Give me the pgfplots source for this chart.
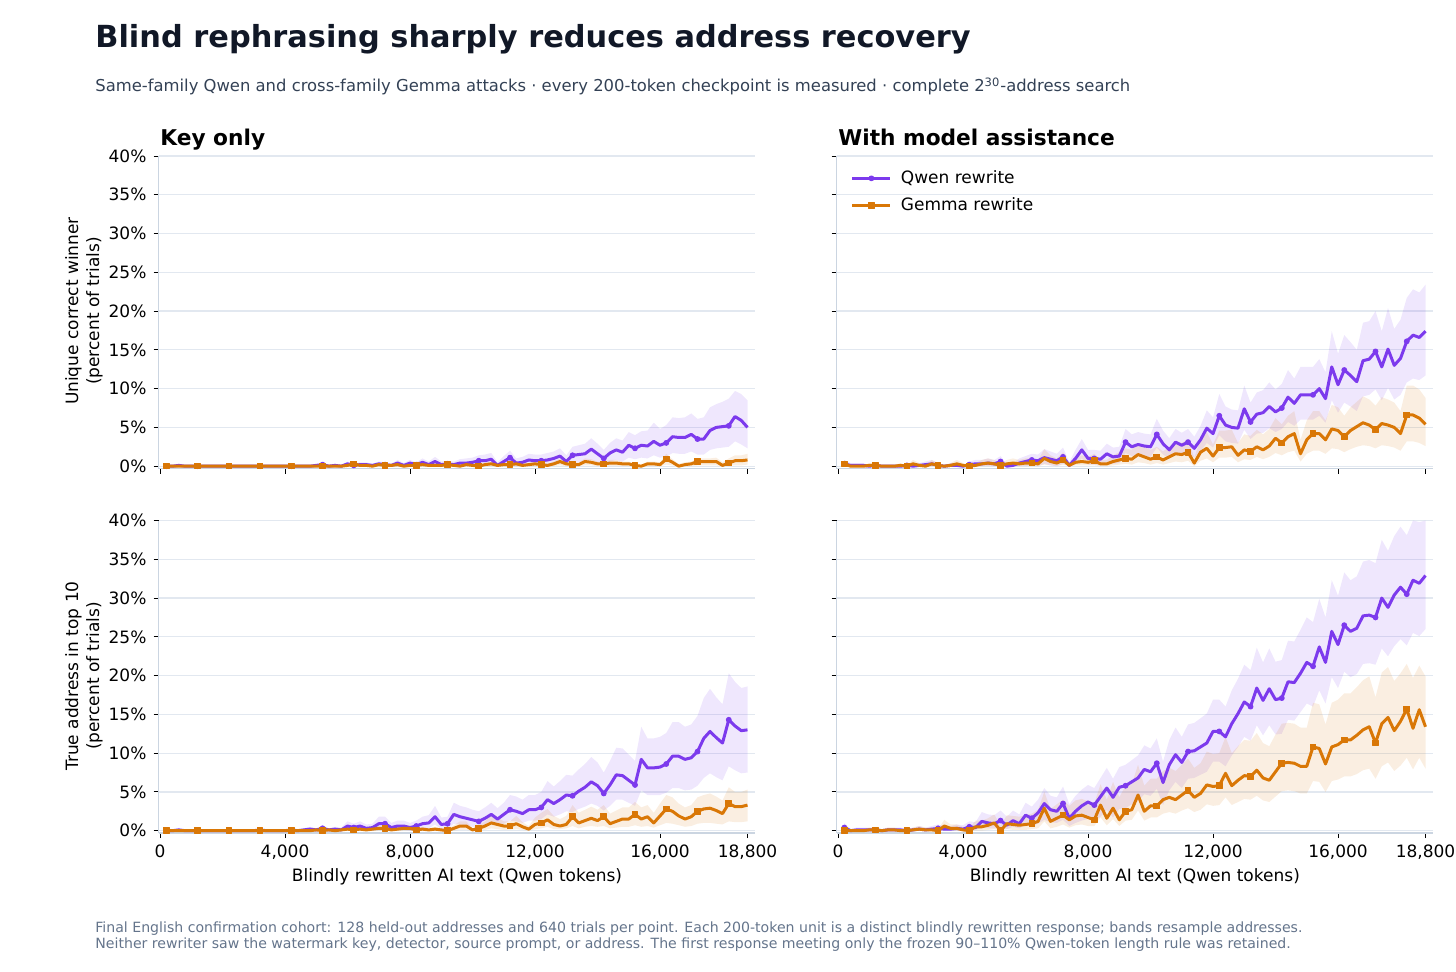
\documentclass[border=0pt]{standalone}
\usepackage{pgfplots}
\pgfplotsset{compat=1.18}
\usepackage{pgfplotstable}
\usepgfplotslibrary{fillbetween}
\usepackage{fontspec}
\setmainfont{DejaVu Sans}
\definecolor{qcol}{HTML}{7C3AED}
\definecolor{gcol}{HTML}{D97706}
\definecolor{gridc}{HTML}{E2E8F0}
\definecolor{spine}{HTML}{CBD5E1}
\definecolor{titlec}{HTML}{111827}
\definecolor{subc}{HTML}{334155}
\definecolor{footc}{HTML}{64748B}

\pgfplotstableread{
x q ql qh g gl gh
200 0.0 0.0 0.0 0.0 0.0 0.0
400 0.0 0.0 0.0 0.0 0.0 0.0
600 0.1 0.0 0.3 0.0 0.0 0.0
800 0.0 0.0 0.1 0.0 0.0 0.0
1000 0.0 0.0 0.0 0.0 0.0 0.0
1200 0.0 0.0 0.0 0.0 0.0 0.0
1400 0.0 0.0 0.0 0.0 0.0 0.0
1600 0.0 0.0 0.0 0.0 0.0 0.0
1800 0.0 0.0 0.0 0.0 0.0 0.0
2000 0.0 0.0 0.0 0.0 0.0 0.0
2200 0.0 0.0 0.0 0.0 0.0 0.0
2400 0.0 0.0 0.0 0.0 0.0 0.0
2600 0.0 0.0 0.0 0.0 0.0 0.0
2800 0.0 0.0 0.0 0.0 0.0 0.0
3000 0.0 0.0 0.0 0.0 0.0 0.0
3200 0.0 0.0 0.0 0.0 0.0 0.0
3400 0.0 0.0 0.0 0.0 0.0 0.0
3600 0.0 0.0 0.0 0.0 0.0 0.0
3800 0.0 0.0 0.0 0.0 0.0 0.0
4000 0.0 0.0 0.0 0.0 0.0 0.0
4200 0.0 0.0 0.0 0.0 0.0 0.0
4400 0.0 0.0 0.0 0.0 0.0 0.0
4600 0.0 0.0 0.0 0.0 0.0 0.0
4800 0.0 0.0 0.1 0.0 0.0 0.0
5000 0.1 0.0 0.3 0.0 0.0 0.0
5200 0.2 0.0 0.4 0.0 0.0 0.0
5400 0.0 0.0 0.2 0.0 0.0 0.0
5600 0.1 0.0 0.3 0.0 0.0 0.0
5800 0.0 0.0 0.2 0.0 0.0 0.1
6000 0.3 0.0 0.6 0.1 0.0 0.3
6200 0.1 0.0 0.3 0.3 0.0 0.6
6400 0.2 0.0 0.5 0.1 0.0 0.3
6600 0.2 0.0 0.5 0.1 0.0 0.3
6800 0.1 0.0 0.3 0.0 0.0 0.1
7000 0.3 0.0 0.6 0.2 0.0 0.4
7200 0.2 0.0 0.5 0.1 0.0 0.3
7400 0.1 0.0 0.3 0.1 0.0 0.3
7600 0.4 0.0 0.8 0.2 0.0 0.4
7800 0.1 0.0 0.4 0.0 0.0 0.1
8000 0.4 0.0 0.8 0.1 0.0 0.3
8200 0.2 0.0 0.5 0.1 0.0 0.3
8400 0.5 0.0 1.0 0.2 0.0 0.4
8600 0.2 0.0 0.6 0.1 0.0 0.3
8800 0.6 0.1 1.2 0.1 0.0 0.3
9000 0.2 0.0 0.6 0.1 0.0 0.3
9200 0.3 0.0 0.7 0.2 0.0 0.4
9400 0.2 0.0 0.6 0.1 0.0 0.3
9600 0.4 0.0 0.9 0.0 0.0 0.1
9800 0.4 0.0 1.0 0.2 0.0 0.4
10000 0.5 0.1 1.1 0.1 0.0 0.3
10200 0.7 0.1 1.4 0.0 0.0 0.1
10400 0.7 0.1 1.5 0.2 0.0 0.4
10600 0.9 0.2 1.7 0.3 0.0 0.6
10800 0.1 0.0 0.5 0.1 0.0 0.3
11000 0.6 0.1 1.3 0.2 0.0 0.4
11200 1.1 0.3 2.0 0.2 0.0 0.4
11400 0.4 0.0 1.0 0.3 0.0 0.6
11600 0.5 0.1 1.2 0.1 0.0 0.3
11800 0.8 0.2 1.6 0.2 0.0 0.4
12000 0.7 0.1 1.5 0.3 0.0 0.6
12200 0.7 0.1 1.5 0.2 0.0 0.4
12400 0.8 0.2 1.7 0.1 0.0 0.3
12600 1.0 0.2 1.9 0.3 0.0 0.6
12800 1.3 0.3 2.3 0.6 0.1 1.0
13000 0.6 0.1 1.4 0.3 0.0 0.6
13200 1.4 0.4 2.5 0.2 0.0 0.5
13400 1.5 0.5 2.7 0.2 0.0 0.5
13600 1.6 0.5 2.9 0.6 0.1 1.0
13800 2.2 0.8 3.6 0.5 0.1 0.9
14000 1.6 0.5 2.9 0.3 0.0 0.6
14200 1.0 0.2 2.1 0.3 0.0 0.6
14400 1.7 0.6 3.0 0.4 0.0 0.8
14600 2.1 0.8 3.6 0.4 0.0 0.8
14800 1.8 0.6 3.3 0.3 0.0 0.6
15000 2.7 1.1 4.4 0.3 0.0 0.6
15200 2.3 0.9 4.0 0.1 0.0 0.3
15400 2.7 1.1 4.5 0.0 0.0 0.2
15600 2.6 1.0 4.6 0.3 0.0 0.6
15800 3.2 1.4 5.6 0.3 0.0 0.6
16000 2.7 1.1 4.8 0.2 0.0 0.5
16200 3.0 1.2 5.3 0.9 0.2 1.6
16400 3.8 1.7 6.3 0.5 0.1 0.9
16600 3.7 1.6 6.2 0.0 0.0 0.3
16800 3.7 1.6 6.3 0.2 0.0 0.5
17000 4.1 1.9 6.8 0.3 0.0 0.6
17200 3.5 1.5 6.1 0.6 0.1 1.0
17400 3.5 1.5 6.3 0.6 0.1 1.0
17600 4.6 2.1 7.6 0.6 0.1 1.0
17800 5.0 2.3 8.0 0.6 0.1 1.1
18000 5.1 2.4 8.3 0.1 0.0 0.5
18200 5.2 2.5 8.7 0.4 0.1 1.0
18400 6.4 3.2 9.7 0.7 0.1 1.4
18600 5.9 2.8 9.3 0.7 0.1 1.4
18800 5.0 2.3 8.5 0.8 0.2 1.6
}\dataTL

\pgfplotstableread{
x q ql qh g gl gh
200 0.3 0.0 0.8 0.3 0.0 0.8
400 0.1 0.0 0.4 0.0 0.0 0.1
600 0.1 0.0 0.4 0.0 0.0 0.1
800 0.1 0.0 0.4 0.0 0.0 0.1
1000 0.0 0.0 0.1 0.1 0.0 0.4
1200 0.1 0.0 0.4 0.1 0.0 0.4
1400 0.0 0.0 0.1 0.0 0.0 0.1
1600 0.0 0.0 0.1 0.0 0.0 0.1
1800 0.0 0.0 0.1 0.0 0.0 0.1
2000 0.0 0.0 0.1 0.1 0.0 0.4
2200 0.1 0.0 0.4 0.0 0.0 0.1
2400 0.0 0.0 0.1 0.3 0.0 0.8
2600 0.1 0.0 0.4 0.1 0.0 0.4
2800 0.2 0.0 0.6 0.0 0.0 0.1
3000 0.3 0.0 0.8 0.3 0.0 0.8
3200 0.1 0.0 0.4 0.1 0.0 0.4
3400 0.0 0.0 0.1 0.0 0.0 0.1
3600 0.1 0.0 0.4 0.1 0.0 0.4
3800 0.1 0.0 0.4 0.3 0.0 0.8
4000 0.0 0.0 0.1 0.1 0.0 0.4
4200 0.2 0.0 0.6 0.0 0.0 0.1
4400 0.3 0.0 0.8 0.1 0.0 0.4
4600 0.3 0.0 0.8 0.3 0.0 0.8
4800 0.4 0.0 1.0 0.4 0.0 1.0
5000 0.3 0.0 0.8 0.3 0.0 0.8
5200 0.6 0.0 1.3 0.1 0.0 0.4
5400 0.0 0.0 0.2 0.3 0.0 0.8
5600 0.1 0.0 0.4 0.4 0.0 1.0
5800 0.4 0.0 1.0 0.3 0.0 0.8
6000 0.6 0.0 1.3 0.4 0.0 1.0
6200 0.8 0.1 1.6 0.4 0.0 1.0
6400 0.7 0.0 1.5 0.3 0.0 0.8
6600 1.1 0.3 2.2 1.0 0.2 2.2
6800 0.9 0.1 1.9 0.6 0.1 1.4
7000 0.7 0.0 1.6 0.4 0.0 1.0
7200 1.2 0.3 2.4 0.8 0.2 1.8
7400 0.1 0.0 0.5 0.1 0.0 0.4
7600 1.0 0.2 2.1 0.5 0.1 1.2
7800 2.1 1.0 3.5 0.6 0.1 1.4
8000 1.0 0.2 2.1 0.5 0.1 1.2
8200 1.0 0.2 2.1 0.7 0.1 1.6
8400 0.9 0.1 2.0 0.3 0.0 0.8
8600 1.6 0.6 2.9 0.3 0.0 0.8
8800 1.2 0.3 2.4 0.6 0.1 1.4
9000 1.3 0.4 2.5 0.8 0.2 1.8
9200 3.1 1.7 4.8 1.0 0.3 2.3
9400 2.5 1.3 4.1 0.9 0.2 2.1
9600 2.8 1.5 4.4 1.5 0.5 3.0
9800 2.6 1.3 4.2 1.2 0.4 2.5
10000 2.5 1.2 4.1 0.9 0.2 2.1
10200 4.1 2.4 6.1 1.2 0.4 2.5
10400 2.9 1.5 4.6 0.8 0.2 1.9
10600 2.1 1.0 3.6 1.2 0.4 2.5
10800 3.1 1.7 4.8 1.6 0.6 3.2
11000 2.7 1.4 4.3 1.5 0.5 3.0
11200 3.1 1.7 4.8 1.8 0.7 3.5
11400 2.3 1.1 3.8 0.4 0.0 1.1
11600 3.4 1.9 5.2 1.8 0.7 3.5
11800 4.9 3.0 7.2 2.3 1.0 4.4
12000 4.2 2.4 6.3 1.3 0.5 2.8
12200 6.5 4.0 9.3 2.4 1.1 4.6
12400 5.3 3.2 7.7 2.4 1.1 4.6
12600 5.0 3.0 7.3 2.5 1.2 4.7
12800 4.9 2.9 7.2 1.4 0.5 3.0
13000 7.4 4.7 10.4 2.1 0.9 4.1
13200 5.7 3.5 8.2 1.9 0.8 3.9
13400 6.7 4.2 9.5 2.5 1.2 4.7
13600 6.9 4.3 9.8 2.1 0.9 4.1
13800 7.7 4.9 10.8 2.6 1.2 4.8
14000 7.0 4.4 9.9 3.6 1.7 6.2
14200 7.5 4.8 10.6 3.0 1.4 5.4
14400 8.9 5.7 12.4 3.8 1.8 6.5
14600 8.1 5.2 11.3 4.2 2.0 7.1
14800 9.2 6.0 12.8 1.6 0.6 3.4
15000 9.2 6.0 12.8 3.4 1.6 5.9
15200 9.2 6.0 12.8 4.2 2.0 7.1
15400 10.0 6.5 13.8 4.2 2.0 7.1
15600 8.7 5.6 12.1 3.4 1.6 5.9
15800 12.8 8.5 17.4 4.8 2.3 7.9
16000 10.5 6.9 14.5 4.6 2.2 7.6
16200 12.4 8.2 16.9 3.8 1.8 6.5
16400 11.7 7.7 16.0 4.6 2.2 7.6
16600 10.9 7.1 15.0 5.1 2.5 8.3
16800 13.6 9.0 18.5 5.6 2.7 9.0
17000 13.8 9.2 18.7 5.3 2.6 8.6
17200 14.8 9.9 20.0 4.7 2.3 7.8
17400 12.8 8.5 17.4 5.5 2.7 8.9
17600 15.1 10.1 20.4 5.3 2.6 8.6
17800 13.0 8.6 17.7 5.0 2.4 8.2
18000 13.9 9.2 18.9 4.2 2.0 7.1
18200 16.1 10.8 21.7 6.6 3.2 10.4
18400 16.9 11.3 22.8 6.6 3.2 10.4
18600 16.6 11.1 22.4 6.2 3.0 9.9
18800 17.4 11.7 23.4 5.4 2.6 8.8
}\dataTR

\pgfplotstableread{
x q ql qh g gl gh
200 0.0 0.0 0.1 0.0 0.0 0.1
400 0.0 0.0 0.1 0.0 0.0 0.0
600 0.1 0.0 0.3 0.0 0.0 0.0
800 0.0 0.0 0.1 0.0 0.0 0.0
1000 0.0 0.0 0.0 0.0 0.0 0.0
1200 0.0 0.0 0.0 0.0 0.0 0.0
1400 0.0 0.0 0.0 0.0 0.0 0.0
1600 0.0 0.0 0.0 0.0 0.0 0.0
1800 0.0 0.0 0.0 0.0 0.0 0.0
2000 0.0 0.0 0.0 0.0 0.0 0.0
2200 0.0 0.0 0.0 0.0 0.0 0.0
2400 0.0 0.0 0.0 0.0 0.0 0.0
2600 0.0 0.0 0.0 0.0 0.0 0.0
2800 0.0 0.0 0.0 0.0 0.0 0.0
3000 0.0 0.0 0.1 0.0 0.0 0.0
3200 0.1 0.0 0.3 0.0 0.0 0.1
3400 0.0 0.0 0.1 0.0 0.0 0.0
3600 0.0 0.0 0.0 0.0 0.0 0.0
3800 0.0 0.0 0.0 0.0 0.0 0.0
4000 0.0 0.0 0.1 0.0 0.0 0.0
4200 0.1 0.0 0.3 0.0 0.0 0.0
4400 0.0 0.0 0.1 0.0 0.0 0.0
4600 0.1 0.0 0.3 0.0 0.0 0.1
4800 0.2 0.0 0.5 0.0 0.0 0.1
5000 0.1 0.0 0.3 0.1 0.0 0.3
5200 0.3 0.0 0.7 0.0 0.0 0.1
5400 0.1 0.0 0.3 0.1 0.0 0.3
5600 0.2 0.0 0.5 0.0 0.0 0.1
5800 0.1 0.0 0.4 0.1 0.0 0.3
6000 0.6 0.1 1.2 0.2 0.0 0.5
6200 0.4 0.0 0.9 0.1 0.0 0.3
6400 0.6 0.1 1.2 0.2 0.0 0.5
6600 0.3 0.0 0.8 0.1 0.0 0.3
6800 0.4 0.0 0.9 0.2 0.0 0.5
7000 0.9 0.2 1.8 0.3 0.0 0.7
7200 0.9 0.2 1.8 0.3 0.0 0.7
7400 0.4 0.0 1.0 0.1 0.0 0.3
7600 0.6 0.1 1.3 0.2 0.0 0.5
7800 0.6 0.1 1.3 0.3 0.0 0.7
8000 0.4 0.0 1.0 0.3 0.0 0.7
8200 0.6 0.1 1.3 0.1 0.0 0.3
8400 0.9 0.2 1.8 0.2 0.0 0.5
8600 1.0 0.3 2.0 0.1 0.0 0.3
8800 1.8 0.8 3.2 0.2 0.0 0.5
9000 0.8 0.2 1.7 0.1 0.0 0.3
9200 0.9 0.2 1.8 0.0 0.0 0.2
9400 2.1 0.9 3.6 0.3 0.0 0.7
9600 1.8 0.8 3.2 0.6 0.1 1.2
9800 1.6 0.7 3.0 0.6 0.1 1.2
10000 1.4 0.5 2.7 0.1 0.0 0.3
10200 1.2 0.4 2.5 0.3 0.0 0.7
10400 1.6 0.7 3.0 0.6 0.1 1.2
10600 2.1 0.9 3.6 1.0 0.3 2.0
10800 1.5 0.6 2.9 0.8 0.2 1.7
11000 2.1 0.9 3.6 0.6 0.1 1.2
11200 2.7 1.3 4.6 0.6 0.1 1.2
11400 2.5 1.2 4.4 0.9 0.2 1.9
11600 2.2 1.0 4.0 0.5 0.1 1.1
11800 2.7 1.3 4.6 0.2 0.0 0.6
12000 2.7 1.3 4.6 0.8 0.2 1.7
12200 3.0 1.5 5.0 1.0 0.3 2.3
12400 4.0 2.1 6.4 1.4 0.5 2.8
12600 3.5 1.8 5.7 0.8 0.2 1.9
12800 4.0 2.1 6.4 0.6 0.2 1.5
13000 4.6 2.5 7.2 0.8 0.3 1.9
13200 4.5 2.4 7.1 1.8 0.6 3.3
13400 5.1 2.8 7.9 1.0 0.3 2.3
13600 5.6 3.1 8.6 1.3 0.5 2.7
13800 6.3 3.5 9.5 1.6 0.6 3.1
14000 5.8 3.2 8.8 1.3 0.5 2.7
14200 4.8 2.6 7.5 1.8 0.6 3.3
14400 5.9 3.2 9.0 0.9 0.3 2.2
14600 7.2 4.0 10.7 1.2 0.4 2.6
14800 7.1 4.0 10.6 1.5 0.5 3.0
15000 6.5 3.6 9.8 1.5 0.5 3.0
15200 5.9 3.2 9.0 2.1 0.7 3.7
15400 9.2 5.2 13.4 1.5 0.5 3.0
15600 8.1 4.6 11.9 1.8 0.6 3.3
15800 8.1 4.6 11.9 1.0 0.4 2.3
16000 8.2 4.6 12.1 1.9 0.7 3.5
16200 8.6 4.9 12.6 2.8 1.0 4.6
16400 9.6 5.5 14.0 2.5 0.9 4.3
16600 9.6 5.5 14.0 1.9 0.7 3.5
16800 9.2 5.2 13.4 1.5 0.5 3.0
17000 9.4 5.3 13.7 1.8 0.6 3.3
17200 10.2 5.8 14.8 2.5 0.9 4.3
17400 11.9 6.8 17.1 2.8 1.0 4.6
17600 12.8 7.4 18.3 2.9 1.0 4.8
17800 12.0 6.9 17.2 2.6 0.9 4.4
18000 11.3 6.5 16.3 2.2 0.8 3.9
18200 14.3 8.3 20.3 3.5 1.2 5.6
18400 13.5 7.8 19.2 3.1 1.1 5.0
18600 12.9 7.4 18.4 3.1 1.1 5.0
18800 13.0 7.5 18.6 3.3 1.2 5.3
}\dataBL

\pgfplotstableread{
x q ql qh g gl gh
200 0.4 0.0 1.0 0.0 0.0 0.1
400 0.0 0.0 0.2 0.0 0.0 0.1
600 0.1 0.0 0.4 0.0 0.0 0.1
800 0.1 0.0 0.4 0.0 0.0 0.1
1000 0.1 0.0 0.4 0.1 0.0 0.4
1200 0.1 0.0 0.4 0.1 0.0 0.4
1400 0.0 0.0 0.2 0.0 0.0 0.1
1600 0.1 0.0 0.4 0.1 0.0 0.4
1800 0.1 0.0 0.4 0.1 0.0 0.4
2000 0.1 0.0 0.4 0.0 0.0 0.1
2200 0.0 0.0 0.2 0.0 0.0 0.1
2400 0.1 0.0 0.4 0.1 0.0 0.4
2600 0.2 0.0 0.6 0.2 0.0 0.6
2800 0.1 0.0 0.4 0.1 0.0 0.4
3000 0.2 0.0 0.6 0.1 0.0 0.4
3200 0.3 0.0 0.8 0.0 0.0 0.2
3400 0.2 0.0 0.6 0.6 0.1 1.4
3600 0.2 0.0 0.6 0.3 0.0 0.8
3800 0.3 0.0 0.8 0.3 0.0 0.8
4000 0.2 0.0 0.7 0.1 0.0 0.5
4200 0.5 0.1 1.2 0.0 0.0 0.3
4400 0.4 0.1 1.1 0.5 0.0 1.3
4600 1.2 0.4 2.4 0.5 0.0 1.3
4800 1.0 0.3 2.1 0.7 0.1 1.6
5000 0.9 0.3 2.0 1.0 0.2 2.1
5200 1.3 0.5 2.6 0.0 0.0 0.6
5400 0.7 0.2 1.8 0.9 0.2 2.0
5600 1.3 0.5 2.6 0.8 0.1 1.9
5800 0.9 0.3 2.1 0.7 0.1 1.8
6000 2.0 0.8 3.6 0.8 0.1 2.0
6200 1.6 0.6 3.1 0.9 0.2 2.2
6400 2.3 0.9 4.0 1.2 0.3 2.7
6600 3.5 1.4 5.5 2.9 1.2 5.0
6800 2.7 1.1 4.5 1.2 0.3 2.8
7000 2.5 1.0 4.3 1.6 0.5 3.4
7200 3.5 1.4 5.7 2.0 0.8 4.0
7400 1.6 0.6 3.4 1.4 0.4 3.2
7600 2.5 1.0 4.5 1.9 0.7 3.9
7800 3.2 1.3 5.3 2.0 0.8 4.1
8000 3.7 1.5 5.9 1.7 0.6 3.8
8200 3.3 1.3 5.5 1.4 0.6 3.5
8400 4.4 1.8 6.8 3.3 1.7 6.0
8600 5.5 2.7 8.1 1.6 0.7 4.0
8800 4.3 1.7 6.7 2.9 1.5 6.3
9000 5.6 2.8 8.2 1.4 0.6 4.3
9200 5.8 2.9 8.5 2.5 1.3 5.8
9400 6.3 3.4 9.1 2.7 1.4 6.0
9600 6.8 3.8 9.7 4.6 2.6 8.5
9800 7.9 4.7 11.0 2.5 1.3 5.8
10000 7.6 4.5 10.6 3.2 1.7 6.7
10200 8.7 5.4 11.9 3.2 1.7 6.7
10400 6.2 3.3 8.9 4.0 2.2 7.7
10600 8.5 5.2 11.7 4.3 2.4 8.1
10800 9.8 6.3 13.3 4.0 2.2 7.7
11000 8.8 5.5 12.1 4.6 2.6 8.5
11200 10.2 6.7 13.7 5.2 2.9 9.3
11400 10.3 6.8 13.9 4.3 2.4 8.1
11600 10.8 7.2 14.5 4.8 2.7 8.7
11800 11.3 7.6 15.1 5.9 3.4 10.2
12000 12.8 8.9 16.9 5.7 3.2 9.9
12200 12.8 8.9 16.9 5.8 3.3 10.0
12400 12.1 8.3 16.0 7.4 4.3 12.1
12600 13.8 9.7 18.1 5.8 3.3 10.0
12800 15.1 10.8 19.6 6.5 3.7 10.9
13000 16.6 12.1 21.4 7.1 4.1 11.7
13200 16.0 11.6 20.7 7.0 4.0 11.6
13400 18.4 13.6 23.6 7.8 4.5 12.6
13600 16.8 12.3 21.7 6.8 3.9 11.3
13800 18.3 13.6 23.5 6.5 3.7 10.9
14000 16.9 12.4 21.8 7.6 4.4 12.4
14200 17.1 12.5 22.0 8.7 5.1 13.8
14400 19.2 14.3 24.5 8.8 5.2 13.9
14600 19.1 14.2 24.4 8.7 5.1 13.8
14800 20.3 15.3 25.9 8.3 4.8 13.3
15000 21.7 16.4 27.5 8.3 4.8 13.3
15200 21.2 16.0 26.9 10.8 6.4 16.5
15400 23.7 18.1 29.9 10.6 6.3 16.3
15600 21.7 16.4 27.5 8.6 5.0 13.7
15800 25.7 19.8 32.3 10.8 6.4 16.5
16000 24.0 18.4 30.3 11.1 6.6 16.9
16200 26.5 20.5 33.3 11.7 7.0 17.7
16400 25.7 19.8 32.3 11.7 7.0 17.7
16600 26.1 20.2 32.8 12.3 7.3 18.5
16800 27.7 21.5 34.7 13.0 7.8 19.4
17000 27.8 21.6 34.9 13.4 8.0 19.9
17200 27.5 21.4 34.5 11.3 6.7 17.2
17400 30.0 23.5 37.5 13.8 8.3 20.4
17600 28.8 22.5 36.1 14.6 8.8 21.1
17800 30.4 23.8 38.0 12.9 7.7 19.3
18000 31.4 24.7 39.2 14.1 8.4 20.3
18200 30.5 23.9 38.1 15.7 9.4 21.5
18400 32.3 25.5 40.0 13.2 7.9 19.7
18600 31.9 25.1 39.8 15.6 9.4 21.3
18800 32.9 26.0 40.0 13.4 8.0 19.9
}\dataBR

\pgfplotsset{
  panel/.style={
    scale only axis, width=298.25pt, height=156.25pt,
    xmin=-50, xmax=19040, ymin=-0.3, ymax=40,
    clip=false,
    axis x line*=bottom, axis y line*=left,
    axis line style={draw=spine, line width=0.7pt, -},
    xtick={0,4000,8000,12000,16000,18800},
    ytick={0,5,10,15,20,25,30,35,40},
    tick align=outside, major tick length=2.5pt,
    tick style={color=black, line width=0.5pt},
    ymajorgrids, grid style={draw=gridc, line width=0.6pt},
    ticklabel style={font=\fontsize{8.5}{10}\selectfont},
    scaled x ticks=false,
    xticklabels={},
    yticklabels={},
  },
  ylab/.style={yticklabels={0\%,5\%,10\%,15\%,20\%,25\%,30\%,35\%,40\%}},
  xlab/.style={xticklabels={0,{4,000},{8,000},{12,000},{16,000},{18,800}}},
  qline/.style={qcol, line width=1.5pt, line join=round, mark=*, mark size=1.2pt, mark repeat=5, mark phase=1, mark options={solid, fill=qcol, draw=qcol, line width=0.5pt}},
  gline/.style={gcol, line width=1.5pt, line join=round, mark=square*, mark size=1.4pt, mark repeat=5, mark phase=1, mark options={solid, fill=gcol, draw=gcol, line width=0.5pt}},
}

\newcommand{\bands}[1]{%
  \addplot[draw=none, forget plot, name path=qh] table[x=x,y=qh]{#1};
  \addplot[draw=none, forget plot, name path=ql] table[x=x,y=ql]{#1};
  \addplot[fill=qcol, fill opacity=0.12, draw=none, forget plot] fill between[of=qh and ql];
  \addplot[draw=none, forget plot, name path=gh] table[x=x,y=gh]{#1};
  \addplot[draw=none, forget plot, name path=gl] table[x=x,y=gl]{#1};
  \addplot[fill=gcol, fill opacity=0.12, draw=none, forget plot] fill between[of=gh and gl];
}

\begin{document}
\begin{tikzpicture}

% Top-left
\begin{axis}[panel, ylab, at={(79.25pt,251.25pt)}, anchor=south west]
\bands{\dataTL}
\addplot[qline] table[x=x,y=q]{\dataTL};
\addplot[gline] table[x=x,y=g]{\dataTL};
\end{axis}

% Top-right
\begin{axis}[panel, at={(418.25pt,251.25pt)}, anchor=south west,
  legend style={at={(axis description cs:0,1)}, anchor=north west, draw=none, fill=none,
    font=\fontsize{8.5}{10}\selectfont, xshift=6pt, yshift=-4pt, row sep=1.5pt,
    column sep=2.5pt, inner sep=1pt},
  legend cell align=left,
  legend image code/.code={
    \draw[#1, mark=none] (0pt,0pt) -- (19pt,0pt);
    \draw[#1, only marks] plot coordinates {(9.5pt,0pt)};
  }]
\bands{\dataTR}
\addplot[qline] table[x=x,y=q]{\dataTR};
\addlegendentry{Qwen rewrite}
\addplot[gline] table[x=x,y=g]{\dataTR};
\addlegendentry{Gemma rewrite}
\end{axis}

% Bottom-left
\begin{axis}[panel, ylab, xlab, at={(79.25pt,69pt)}, anchor=south west]
\bands{\dataBL}
\addplot[qline] table[x=x,y=q]{\dataBL};
\addplot[gline] table[x=x,y=g]{\dataBL};
\end{axis}

% Bottom-right
\begin{axis}[panel, xlab, at={(418.25pt,69pt)}, anchor=south west]
\bands{\dataBR}
\addplot[qline] table[x=x,y=q]{\dataBR};
\addplot[gline] table[x=x,y=g]{\dataBR};
\end{axis}

% Titles and labels
\node[anchor=base west, font=\fontsize{15.2}{18}\selectfont\bfseries, text=titlec, inner sep=0pt]
  at (47.5pt,461.5pt) {Blind rephrasing sharply reduces address recovery};
\node[anchor=base west, font=\fontsize{8.2}{9.8}\selectfont, text=subc, inner sep=0pt]
  at (47.5pt,439.5pt) {Same-family Qwen and cross-family Gemma attacks · every 200-token checkpoint is measured · complete 2\textsuperscript{30}-address search};
\node[anchor=base west, font=\fontsize{10.85}{13}\selectfont\bfseries, inner sep=0pt]
  at (80pt,412.5pt) {Key only};
\node[anchor=base west, font=\fontsize{10.85}{13}\selectfont\bfseries, inner sep=0pt]
  at (419pt,412.5pt) {With model assistance};
\node[rotate=90, align=center, font=\fontsize{8.5}{10.5}\selectfont, inner sep=0pt]
  at (42pt,330pt) {Unique correct winner\\(percent of trials)};
\node[rotate=90, align=center, font=\fontsize{8.5}{10.5}\selectfont, inner sep=0pt]
  at (42pt,147.5pt) {True address in top 10\\(percent of trials)};
\node[anchor=base, font=\fontsize{8.5}{10}\selectfont, inner sep=0pt]
  at (228.5pt,45pt) {Blindly rewritten AI text (Qwen tokens)};
\node[anchor=base, font=\fontsize{8.5}{10}\selectfont, inner sep=0pt]
  at (567.4pt,45pt) {Blindly rewritten AI text (Qwen tokens)};
\node[anchor=base west, font=\fontsize{7.05}{8.5}\selectfont, text=footc, inner sep=0pt]
  at (47.5pt,19.5pt) {Final English confirmation cohort: 128 held-out addresses and 640 trials per point. Each 200-token unit is a distinct blindly rewritten response; bands resample addresses.};
\node[anchor=base west, font=\fontsize{7.05}{8.5}\selectfont, text=footc, inner sep=0pt]
  at (47.5pt,11.5pt) {Neither rewriter saw the watermark key, detector, source prompt, or address. The first response meeting only the frozen 90–110\% Qwen-token length rule was retained.};

\pgfresetboundingbox
\path[use as bounding box] (0pt,0pt) rectangle (728pt,485.5pt);
\end{tikzpicture}
\end{document}
